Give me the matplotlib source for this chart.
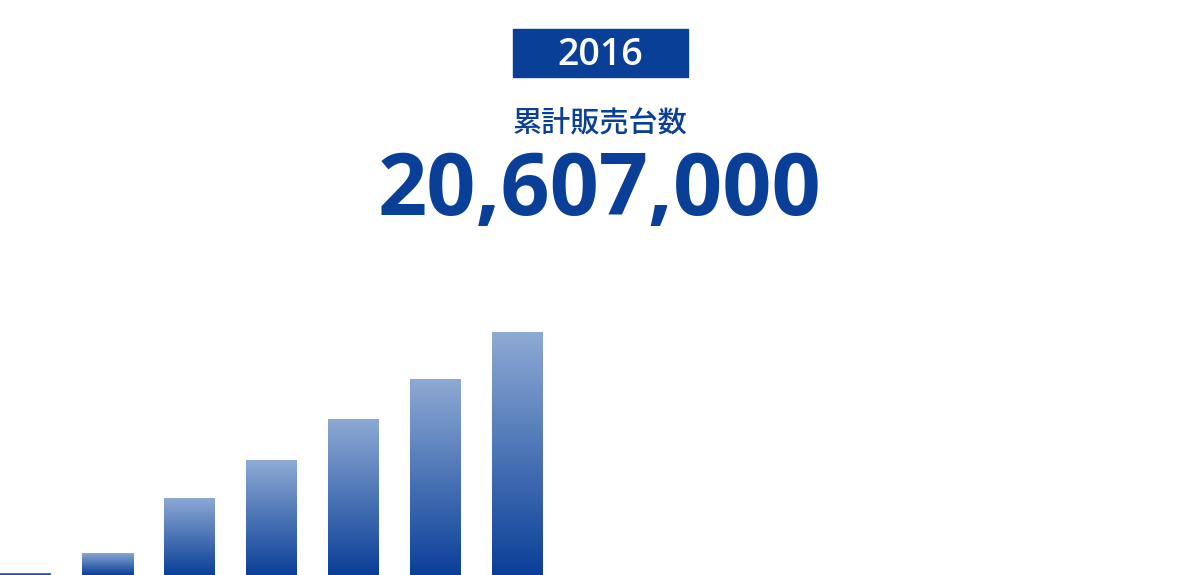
import numpy as np
import matplotlib
matplotlib.use("Agg")
import matplotlib.pyplot as plt
from matplotlib.colors import LinearSegmentedColormap

plt.rcParams['font.family'] = ['Open Sans', 'Noto Sans CJK JP', 'DejaVu Sans']

# cumulative sales, millions of units
bar_index = [0, 1, 2, 3, 4, 5, 6]
cum_sales = [0.17, 1.87, 6.53, 9.75, 13.23, 16.62, 20.607]
year = "2016"
label = "累計販売台数"
total = "20,607,000"

blue = "#0a3f98"
cmap = LinearSegmentedColormap.from_list("bar", ["#0a3f98", "#8eaad4"])

fig = plt.figure(figsize=(12, 5.75), dpi=100)
ax = fig.add_axes([0, 0, 1, 1])
ax.axis("off")

grad = np.linspace(0, 1, 256).reshape(-1, 1)
bars = ax.bar(bar_index, cum_sales, width=51 / 82, color="none", edgecolor="none")
for b in bars:
    x0, y0 = b.get_x(), b.get_y()
    im = ax.imshow(grad, cmap=cmap, origin="lower", aspect="auto",
                   extent=[x0, x0 + b.get_width(), y0, y0 + b.get_height()])
    im.set_clip_path(b)
ax.set_xlim(-25.5 / 82, -25.5 / 82 + 1200 / 82)
ax.set_ylim(0, 20.607 * 575 / 243)

# year badge
fig.patches.append(plt.Rectangle((513 / 1200, 1 - 77 / 575), 175 / 1200, 48 / 575,
                                 transform=fig.transFigure, color=blue))
fig.text(600.5 / 1200, 1 - 55 / 575, year, ha="center", va="center",
         color="white", fontsize=27, fontweight="semibold")
fig.text(600 / 1200, 1 - 125 / 575, label, ha="center", va="center",
         color=blue, fontsize=21, fontweight="medium")
fig.text(600 / 1200, 1 - 193 / 575, total, ha="center", va="center",
         color=blue, fontsize=62, fontweight="bold")

fig.savefig("out.png", dpi=100)
